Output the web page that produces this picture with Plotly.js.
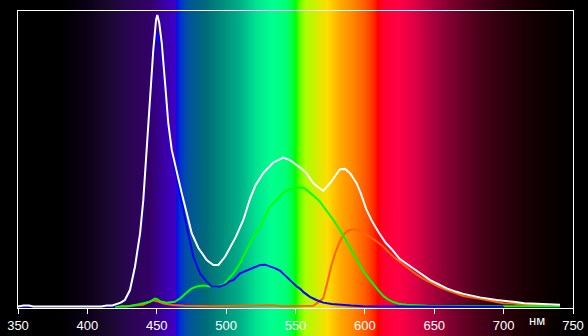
<!DOCTYPE html>
<html><head><meta charset="utf-8">
<script src="https://cdn.plot.ly/plotly-3.0.1.min.js"></script>
<style>html,body{margin:0;padding:0;background:#000}#chart{width:588px;height:336px}</style>
</head><body><div id="chart"></div>
<script>
// ---- data (wavelength in nm, relative intensity, peak = 100) ----
const whiteWl=[350,354,358,361,410,414,418,420,424,427,430.7,434.3,438,440.3,442.7,445.1,447.5,449.5,450.4,451.8,453.6,456,458.3,460.8,464.4,468,471.6,475.2,480,486,490.8,494.4,499.2,502.8,507,512.4,517.2,521,526.8,534,541.2,546,550.9,555.6,558,562.8,566.4,570,574.9,578,582,585.7,589.3,594,597,601,605,610,615,620,625,635,641,647,653,659,666,671,683,695,707,715,724,732,740.6];
const whiteV=[0.2,0.5,0.5,0.2,0.2,0.5,0.5,0.8,1.5,2.4,5.8,13.8,25.3,36.6,53.8,70.9,88,98.3,100,97.3,90.4,76.7,63,53.8,45.9,39,32.2,25.3,20.2,16.1,14.4,14.4,17.2,20.2,24,29.8,37,41.5,45.9,49.5,51.2,50.3,48.6,46.9,45.8,42.4,41,39.8,42.4,44.5,47.2,47.3,45.8,42.4,39,33.5,29.5,25.5,22,19.5,16.5,13.2,11.2,9.2,7.8,6.4,5.2,4.5,3.3,2.4,1.8,1.3,1.1,0.9,0.8];

const blueWl=[350,418,420,424,427,430.7,434.3,438,440.3,442.7,445.1,447.5,449.5,450.7,452,453.6,456,458.3,460.8,464.4,466.8,471.6,476.4,481.2,486,489.6,495.6,500,502.8,505.2,510,514.8,520,524.4,528,531.6,535,538.8,541.2,546,550.9,553.2,556,560.4,565,570,576,582,590,598.9,620,700];
const blueV=[0.1,0.2,0.6,1.3,2.2,5.5,13.3,24.5,35.5,52,68.5,84.5,92,93.8,91.5,86.5,74.5,62,52.7,44,39,27.5,17.2,11.5,8.7,7,7,7.8,8.9,9.2,11.5,12.4,13.5,14.4,14.5,14,13.3,12.5,11.5,9.2,7,6.3,5,3.5,2.4,1.5,1,0.7,0.5,0.3,0.2,0.1];

const greenWl=[420,430,438,445,448.7,450,452.3,457,463,467,471.6,475,478.8,483.6,488.4,493.2,498,502.8,505.2,510,514.8,519,524.4,531.6,534,538,541.2,546,550.9,553.3,556.8,561,565.3,567.7,571,574.9,577.3,582,589.3,596.5,600,604,606,610,613.3,617,620.5,623,625.3,630,637.3,645,700,740.6];
const greenV=[0.1,0.3,1,1.8,2.9,2.8,2,1.5,1.8,3,5,6.3,7,7.4,7,7,7.6,10.4,11.5,15,19.5,23.5,27.5,34.3,35.5,37.5,39.2,40.3,40.6,41,40.6,39,37.2,36,34,31.5,29.8,26.4,20.6,14.4,11.5,9,8,5.5,3.8,2.5,1.7,1.2,1,0.8,0.6,0.4,0.3,0.3];

const redWl=[424,428,440,444,447.5,450,455,461.7,470,490,515,522,528,534,540,555,562.8,566,570,573,576,579,582,585,588,592,594,598.9,602,606.1,608.5,613.3,615.7,620.5,625.3,634.9,641,647,653,659,666,671,683,699.8,707,714.2,724,732];
const redV=[0.3,0.3,0.8,1.6,2.3,2,1.2,0.7,0.4,0.3,0.4,0.6,0.7,0.6,0.3,0.3,0.4,1.5,3,8.5,14.5,19,22.5,25,26.2,26.6,26.5,25.5,24.5,23,22.5,20.6,19.5,17.2,15.5,11.9,10,8.5,7,5.8,4.6,3.8,2.8,1.3,1.2,0.8,0.6,0.5];

const tickVals=[350,400,450,500,550,600,650,700,750];
const tickText=['350','400','450','500','550','600','650','700','750'];
const unitLabel='нм';

// spectrum backdrop stops (wavelength -> colour)
const bgWl=[336,380,398,416,431,445,456,463.5,464.5,467,470,476,485,496,510,521,532,543,547.5,550,553,557,564,573,582,591,601,607,609.5,613,625,636,647,661,679,697,715,733,750,762];
const bgCol=['#000000','#000000','#0a0012','#1a0830','#2a0552','#330066','#3a00a8','#4000c8','#0010ee','#0030d0','#0048b0','#005a90','#006a7a','#008a7c','#00b088','#00e090','#00ff90','#00ff78','#00ff40','#00ff00','#66ff00','#aaff00','#ccf000','#ffdd00','#ffaa00','#ff8800','#ff5500','#ff2200','#ff0000','#ff0030','#ff0044','#dd0044','#b0003c','#800030','#50001c','#30000e','#1a0005','#0a0000','#000000','#000000'];

// ---- build ----
const W=588,H=336, pL=18,pR=573,pT=11,pB=308;
const ppn=(pR-pL)/400;
const lo=bgWl[0], hi=bgWl[bgWl.length-1];
const hx=[]; for(let w=lo; w<=hi; w+=0.5) hx.push(w);
const colorscale=bgWl.map((w,i)=>[(w-lo)/(hi-lo), bgCol[i]]);

const bg={type:'heatmap', x:hx, y:[0,1], z:[hx,hx], zmin:lo, zmax:hi, colorscale:colorscale,
  showscale:false, hoverinfo:'skip', xaxis:'x', yaxis:'y'};
function line(x,y,c){return {type:'scatter', mode:'lines', x:x, y:y, xaxis:'x2', yaxis:'y2',
  line:{color:c, width:2}, hoverinfo:'skip', showlegend:false};}

const data=[bg,
  line(redWl,redV,'#ff6000'),
  line(greenWl,greenV,'#00ff00'),
  line(blueWl,blueV,'#0000ff'),
  line(whiteWl,whiteV,'#ffffff')];

const layout={width:W,height:H, margin:{l:0,r:0,t:0,b:0,pad:0},
  paper_bgcolor:'#000', plot_bgcolor:'rgba(0,0,0,0)', showlegend:false,
  xaxis:{domain:[0,1], range:[350-pL/ppn, 750+(W-pR)/ppn], visible:false, fixedrange:true},
  yaxis:{domain:[0,1], range:[0,1], visible:false, fixedrange:true},
  xaxis2:{domain:[pL/W,pR/W], anchor:'y2', range:[350,750], tickvals:tickVals, ticktext:tickText,
    ticks:'outside', ticklen:5, tickwidth:1, tickcolor:'#fff', showline:true, linecolor:'#fff', linewidth:1,
    mirror:true, showgrid:false, zeroline:false,
    tickfont:{family:'Liberation Sans, Arial, sans-serif', size:13, color:'#fff'}},
  yaxis2:{domain:[(H-pB)/H,(H-pT)/H], anchor:'x2', range:[-0.34,101.37], showline:true, linecolor:'#fff',
    linewidth:1, mirror:true, showticklabels:false, ticks:'', showgrid:false, zeroline:false},
  annotations:[{text:unitLabel, xref:'paper', yref:'paper', x:537/W, y:(H-320)/H, showarrow:false,
    xanchor:'center', yanchor:'middle', font:{family:'Liberation Sans, Arial, sans-serif', size:13, color:'#fff'}}]
};
Plotly.newPlot('chart', data, layout, {staticPlot:true, displayModeBar:false});
</script></body></html>
